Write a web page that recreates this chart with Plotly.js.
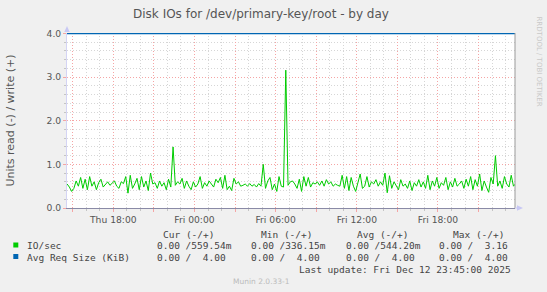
<!DOCTYPE html>
<html><head><meta charset="utf-8">
<script src="https://cdn.plot.ly/plotly-3.0.1.min.js"></script>
<style>html,body{margin:0;padding:0;background:#f0f0f0;}#chart{width:547px;height:292px;}</style>
</head><body><div id="chart"></div>
<script>
// ---- data ----
const ioWrite = [
 0.55,0.48,0.38,0.45,0.62,0.50,0.70,0.45,0.66,0.42,0.72,0.50,0.60,0.42,0.58,0.66,0.48,0.55,0.60,0.52,
 0.58,0.62,0.50,0.45,0.60,0.56,0.72,0.34,0.75,0.45,0.55,0.68,0.42,0.72,0.48,0.62,0.40,0.80,0.55,0.58,
 0.45,0.62,0.50,0.58,0.42,0.66,0.48,1.40,0.52,0.60,
 0.55,0.68,0.45,0.62,0.50,0.42,0.60,0.48,0.55,0.72,0.45,0.58,0.50,0.62,0.55,0.48,0.66,0.58,0.70,0.45,
 0.75,0.42,0.50,0.40,0.68,0.55,0.60,0.50,0.52,0.55,0.50,0.56,0.50,0.54,0.48,0.56,0.50,1.00,0.45,0.62,
 0.70,0.42,0.55,0.38,0.72,0.50,0.48,3.16,0.52,0.60,
 0.62,0.55,0.45,0.66,0.38,0.72,0.50,0.70,0.48,0.58,0.55,0.60,0.52,0.62,0.50,0.65,0.55,0.60,0.50,0.55,
 0.52,0.50,0.75,0.45,0.72,0.40,0.70,0.50,0.38,0.62,0.78,0.45,0.50,0.72,0.48,0.60,0.55,0.65,0.50,0.60,
 0.52,0.80,0.35,0.74,0.45,0.60,0.50,0.42,0.65,0.50,
 0.55,0.45,0.62,0.40,0.58,0.50,0.65,0.48,0.60,0.45,0.75,0.42,0.62,0.50,0.70,0.45,0.58,0.52,0.70,0.42,
 0.60,0.48,0.68,0.50,0.55,0.62,0.45,0.66,0.50,0.72,0.42,0.65,0.50,0.78,0.40,0.62,0.48,0.36,0.70,0.55,
 1.20,0.50,0.62,0.45,0.72,0.55,0.48,0.75,0.50,0.56
];
const startTime = Date.UTC(2025, 11, 11, 14, 35);
const stepMinutes = 10;
const avgReqTimes = ['2025-12-11 14:30', '2025-12-12 23:45'];
const avgReqWrite = [4.00, 4.00];
const xRange = ['2025-12-11 14:34:30', '2025-12-12 23:41:45'];
const tickVals = ['2025-12-11 15:00','2025-12-11 18:00','2025-12-11 21:00','2025-12-12 00:00','2025-12-12 03:00',
                  '2025-12-12 06:00','2025-12-12 09:00','2025-12-12 12:00','2025-12-12 15:00','2025-12-12 18:00','2025-12-12 21:00'];
const tickText = ['','Thu 18:00','','Fri 00:00','','Fri 06:00','','Fri 12:00','','Fri 18:00',''];
const legendLabels = ['IO/sec', 'Avg Req Size (KiB)'];
const legendColors = ['#00cc00', '#0066b3'];
const legendHeaders = ['Cur (-/+)', 'Min (-/+)', 'Avg (-/+)', 'Max (-/+)'];
const legendCells = [
  ['0.00 /559.54m', '0.00 /336.15m', '0.00 /544.20m', '0.00 /  3.16'],
  ['0.00 /  4.00',  '0.00 /  4.00',  '0.00 /  4.00',  '0.00 /  4.00']
];
const lastUpdate = 'Last update: Fri Dec 12 23:45:00 2025';
const versionText = 'Munin 2.0.33-1';

// ---- layout helpers ----
const W = 547, H = 292, L = 67, R = 32, T = 33, B = 84;
const PW = W - L - R, PH = H - T - B;
const px = x => (x - L) / PW;
const py = y => (H - B - y) / PH;
const keepSpaces = s => s.replace(/ /g, '\u00a0');

const times = ioWrite.map((_, i) => new Date(startTime + i * stepMinutes * 60000).toISOString().slice(0, 16).replace('T', ' '));

const traces = [
  {x: times, y: ioWrite, type: 'scatter', mode: 'lines', line: {color: legendColors[0], width: 1}, hoverinfo: 'skip'},
  {x: avgReqTimes, y: avgReqWrite, type: 'scatter', mode: 'lines', line: {color: legendColors[1], width: 1.5}, hoverinfo: 'skip'}
];

const mono = {family: 'DejaVu Sans Mono', size: 9.5, color: '#444'};
const ann = [];
const colX = [156.3, 250, 344.7, 438.3];
const headerX = [162, 259.7, 356, 452.3];
const rowY = [245.8, 257.3];
legendHeaders.forEach((h, i) => ann.push({text: keepSpaces(h), x: px(headerX[i]), y: py(234)}));
legendLabels.forEach((lab, r) => {
  ann.push({text: keepSpaces(lab), x: px(25.5), y: py(rowY[r])});
  legendCells[r].forEach((cell, c) => ann.push({text: keepSpaces(cell), x: px(colX[c]), y: py(rowY[r])}));
});
ann.push({text: keepSpaces(lastUpdate), x: px(297.5), y: py(269.8)});
const annotations = ann.map(a => Object.assign({xref: 'paper', yref: 'paper', xanchor: 'left', yanchor: 'middle',
  showarrow: false, borderpad: 0, font: mono}, a));
annotations.push({text: versionText, xref: 'paper', yref: 'paper', x: px(261), y: py(281.3), xanchor: 'center', yanchor: 'middle',
  showarrow: false, borderpad: 0, font: {family: 'DejaVu Sans', size: 7.5, color: '#bbbbbb'}});
annotations.push({text: 'RRDTOOL / TOBI OETIKER', xref: 'paper', yref: 'paper', x: px(538.5), y: py(61), textangle: 90,
  xanchor: 'center', yanchor: 'middle', showarrow: false, borderpad: 0, font: {family: 'DejaVu Sans', size: 7, color: '#c8c8c8'}});

const shapes = [];
legendColors.forEach((c, r) => shapes.push({type: 'rect', xref: 'paper', yref: 'paper',
  x0: px(13.3), x1: px(18.3), y0: py(rowY[r] - 3.3), y1: py(rowY[r] + 1.7), fillcolor: c, line: {width: 0}}));
// right frame
shapes.push({type: 'line', xref: 'paper', yref: 'paper', x0: 1, x1: 1, y0: 0, y1: 1, line: {color: '#9a9a9a', width: 1}});
// axis arrows
shapes.push({type: 'path', xref: 'paper', yref: 'paper', fillcolor: '#c8c8f4', line: {width: 0},
  path: `M ${px(64.3)} ${py(32)} L ${px(67)} ${py(26)} L ${px(69.7)} ${py(32)} Z`});
shapes.push({type: 'path', xref: 'paper', yref: 'paper', fillcolor: '#c8c8f4', line: {width: 0},
  path: `M ${px(517)} ${py(205.3)} L ${px(523)} ${py(208)} L ${px(517)} ${py(210.7)} Z`});
shapes.push({type: 'line', xref: 'paper', yref: 'paper', x0: 1, x1: px(518), y0: 0, y1: 0, line: {color: '#c8c8f4', width: 1}});

const majorGrid = '#f5a5a5';
const minorGrid = '#d6d6d6';
const layout = {
  width: W, height: H,
  margin: {l: L, r: R, t: T, b: B, pad: 0},
  paper_bgcolor: '#f0f0f0', plot_bgcolor: '#ffffff',
  showlegend: false,
  font: {family: 'DejaVu Sans', size: 9.2, color: '#555'},
  title: {text: 'Disk IOs for /dev/primary-key/root - by day', x: px(261), xanchor: 'center', xref: 'paper',
          y: 1 - 13.5 / H, yanchor: 'middle', font: {family: 'DejaVu Sans', size: 12, color: '#555'}},
  xaxis: {type: 'date', range: xRange, tickmode: 'array', tickvals: tickVals, ticktext: tickText,
          showgrid: true, gridcolor: majorGrid, griddash: '1px,2px', gridwidth: 1,
          ticks: 'outside', ticklen: 3, tickcolor: majorGrid, tickfont: {size: 9.2, color: '#555'},
          showline: true, linecolor: '#8a8aa6', linewidth: 1, zeroline: false,
          minor: {dtick: 3600000, tick0: '2025-12-11 15:00', showgrid: true, gridcolor: minorGrid, griddash: '1px,2px',
                  ticks: 'outside', ticklen: 2, tickcolor: '#c4c4c4'}},
  yaxis: {range: [0, 4.012], tickmode: 'linear', tick0: 0, dtick: 1, tickformat: '.1f',
          showgrid: true, gridcolor: majorGrid, griddash: '1px,2px', gridwidth: 1,
          ticks: 'outside', ticklen: 3, tickcolor: majorGrid, tickfont: {size: 9.2, color: '#555'},
          showline: true, linecolor: '#d4d4f4', linewidth: 1, zeroline: false,
          title: {text: 'Units read (-) / write (+)', font: {family: 'DejaVu Sans', size: 11, color: '#555'}, standoff: 29},
          minor: {dtick: 0.2, showgrid: true, gridcolor: minorGrid, griddash: '1px,2px',
                  ticks: 'outside', ticklen: 2, tickcolor: '#c4c4c4'}},
  annotations: annotations,
  shapes: shapes
};
Plotly.newPlot('chart', traces, layout, {staticPlot: true, displayModeBar: false});
</script>
</body></html>
